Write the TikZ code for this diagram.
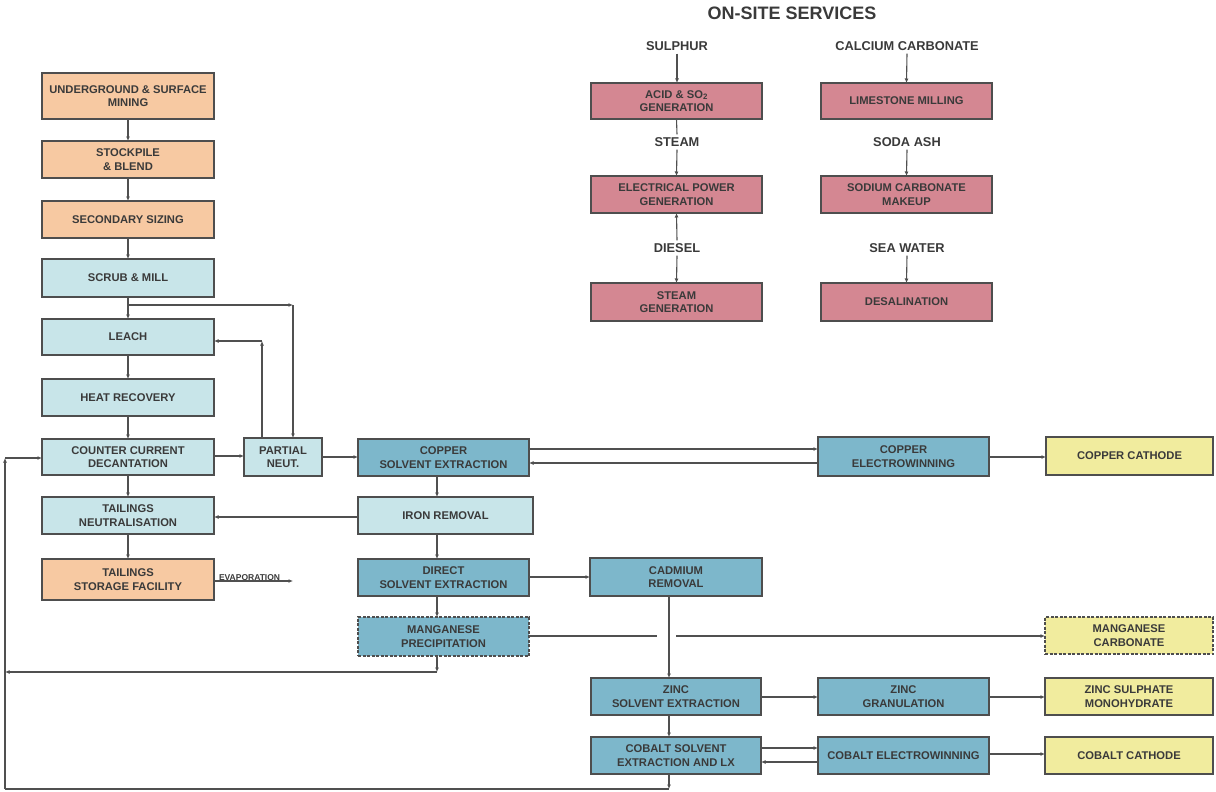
\documentclass[tikz,border=0pt]{standalone}
\usepackage{fontspec}
\setmainfont{Liberation Sans}
\usetikzlibrary{arrows.meta}
\definecolor{orng}{HTML}{F7C9A2}
\definecolor{lblu}{HTML}{C8E5E9}
\definecolor{teal2}{HTML}{7DB7CB}
\definecolor{pnk}{HTML}{D48792}
\definecolor{yel}{HTML}{F1EC9E}
\definecolor{brd}{HTML}{4E4E4E}
\definecolor{txt}{HTML}{3A3A3A}
\definecolor{ln}{HTML}{505050}
\tikzset{
  boxbase/.style={draw=brd, line width=1.3pt, inner sep=0pt, outer sep=0pt, align=center,
    text=txt, font=\fontsize{11.2}{13.4}\selectfont\bfseries},
  orbox/.style={boxbase, fill=orng},
  lbbox/.style={boxbase, fill=lblu},
  tlbox/.style={boxbase, fill=teal2},
  pkbox/.style={boxbase, fill=pnk},
  ylbox/.style={boxbase, fill=yel},
  dashbox/.style={dash pattern=on 3pt off 1.5pt},
  lbl/.style={text=txt, font=\fontsize{12.8}{14}\selectfont\bfseries, inner sep=3pt},
  arr/.style={draw=ln, line width=1.1pt, -{Latex[length=4.5pt,width=4pt]}},
  pln/.style={draw=ln, line width=1.1pt},
}
\newcommand{\bx}[7]{\node[#6, minimum width={(#4)-(#2)}, minimum height={(#5)-(#3)}] (#1) at ({((#2)+(#4))/2},{((#3)+(#5))/2}) {#7};}
\begin{document}
\begin{tikzpicture}[x=1pt,y=-1pt]
\useasboundingbox[fill=white] (0,0) rectangle (1216,792);
% left column
\bx{mine}{42}{73}{214}{119}{orbox}{UNDERGROUND \& SURFACE\\MINING}
\bx{stock}{42}{141}{214}{178}{orbox}{STOCKPILE\\\& BLEND}
\bx{sizing}{42}{201}{214}{238}{orbox}{SECONDARY SIZING}
\bx{scrub}{42}{259}{214}{297}{lbbox}{SCRUB \& MILL}
\bx{leach}{42}{319}{214}{355}{lbbox}{LEACH}
\bx{heat}{42}{379}{214}{416}{lbbox}{HEAT RECOVERY}
\bx{ccd}{42}{439}{214}{475}{lbbox}{COUNTER CURRENT\\DECANTATION}
\bx{tneut}{42}{497}{214}{534}{lbbox}{TAILINGS\\NEUTRALISATION}
\bx{tsf}{42}{559}{214}{600}{orbox}{TAILINGS\\STORAGE FACILITY}
\bx{pneut}{244}{438}{322}{476}{lbbox}{PARTIAL\\NEUT.}
% middle
\bx{cusx}{358}{439}{529}{476}{tlbox}{COPPER\\SOLVENT EXTRACTION}
\bx{iron}{358}{497}{533}{534}{lbbox}{IRON REMOVAL}
\bx{dsx}{358}{559}{529}{596}{tlbox}{DIRECT\\SOLVENT EXTRACTION}
\bx{mnp}{358}{617}{529}{656}{tlbox,dashbox}{MANGANESE\\PRECIPITATION}
\bx{cd}{590}{558}{762}{596}{tlbox}{CADMIUM\\REMOVAL}
\bx{znsx}{591}{678}{761}{715}{tlbox}{ZINC\\SOLVENT EXTRACTION}
\bx{cosx}{591}{737}{761}{774}{tlbox}{COBALT SOLVENT\\EXTRACTION AND LX}
\bx{cuew}{818}{437}{989}{476}{tlbox}{COPPER\\ELECTROWINNING}
\bx{zngr}{818}{678}{989}{715}{tlbox}{ZINC\\GRANULATION}
\bx{coew}{818}{737}{989}{774}{tlbox}{COBALT ELECTROWINNING}
\bx{cucath}{1046}{437}{1213}{475}{ylbox}{COPPER CATHODE}
\bx{mnc}{1045}{617}{1213}{654}{ylbox,dashbox}{MANGANESE\\CARBONATE}
\bx{znsm}{1045}{678}{1213}{715}{ylbox}{ZINC SULPHATE\\MONOHYDRATE}
\bx{cocath}{1045}{737}{1213}{774}{ylbox}{COBALT CATHODE}
% services
\node[text=txt, font=\fontsize{18}{20}\selectfont\bfseries] (title) at (792,13) {ON-SITE SERVICES};
\node[lbl] (sulphur) at (677,46) {SULPHUR};
\node[lbl] (steam) at (677,142) {STEAM};
\node[lbl] (diesel) at (677,248) {DIESEL};
\node[lbl] (calcium) at (907,46) {CALCIUM CARBONATE};
\node[lbl] (sodaash) at (907,142) {SODA ASH};
\node[lbl] (seawater) at (907,248) {SEA WATER};
\bx{acid}{591}{83}{762}{119}{pkbox}{ACID \& SO\textsubscript{2}\\GENERATION}
\bx{elec}{591}{176}{762}{213}{pkbox}{ELECTRICAL POWER\\GENERATION}
\bx{steamg}{591}{283}{762}{321}{pkbox}{STEAM\\GENERATION}
\bx{lime}{821}{83}{992}{119}{pkbox}{LIMESTONE MILLING}
\bx{soda}{821}{176}{992}{213}{pkbox}{SODIUM CARBONATE\\MAKEUP}
\bx{desal}{821}{283}{992}{321}{pkbox}{DESALINATION}
\draw[arr] (sulphur.south) -- (sulphur.south |- acid.north);
\draw[pln] (acid.south) -- (steam.north);
\draw[arr] (steam.south) -- (elec.north);
\draw[arr] (diesel.north) -- (elec.south);
\draw[arr] (diesel.south) -- (steamg.north);
\draw[arr] (calcium.south) -- (lime.north);
\draw[arr] (sodaash.south) -- (soda.north);
\draw[arr] (seawater.south) -- (desal.north);
% left column flow
\draw[arr] (mine) -- (stock);
\draw[arr] (stock) -- (sizing);
\draw[arr] (sizing) -- (scrub);
\draw[arr] (scrub) -- (leach);
\draw[arr] (leach) -- (heat);
\draw[arr] (heat) -- (ccd);
\draw[arr] (ccd) -- (tneut);
\draw[arr] (tneut) -- (tsf);
\coordinate (j1) at (128,305);
\coordinate (j2) at (293,305);
\coordinate (j3) at (262,341);
\draw[arr] (j1) -- (j2);
\draw[arr] (j2) -- (j2 |- pneut.north);
\draw[arr] (j3 |- pneut.north) -- (j3);
\draw[arr] (j3) -- (j3 -| leach.east);
\draw[arr] (ccd.east |- 0,456) -- (pneut.west |- 0,456);
\draw[arr] (pneut.east |- 0,457) -- (cusx.west |- 0,457);
\draw[arr] (cusx.east |- 0,449) -- (cuew.west |- 0,449);
\draw[arr] (cuew.west |- 0,463) -- (cusx.east |- 0,463);
\draw[arr] (cuew.east |- 0,457) -- (cucath.west |- 0,457);
\draw[arr] (cusx.south -| 437,0) -- (iron.north -| 437,0);
\draw[arr] (iron.west |- 0,517) -- (tneut.east |- 0,517);
\draw[arr] (iron.south -| 437,0) -- (dsx.north -| 437,0);
\draw[arr] (dsx.south -| 437,0) -- (mnp.north -| 437,0);
\draw[arr] (dsx.east |- 0,577) -- (cd.west |- 0,577);
% evaporation
\coordinate (evap) at (293,581);
\draw[arr] (tsf.east |- evap) -- node[above=-1pt, pos=0.45, text=txt, font=\fontsize{8.5}{9}\selectfont\bfseries, inner sep=1pt] {EVAPORATION} (evap);
% manganese
\coordinate (g1) at (657,636);
\coordinate (g2) at (676,636);
\draw[pln] (mnp.east |- g1) -- (g1);
\draw[arr] (g2) -- (mnc.west |- g2);
\coordinate (m1) at (437,672);
\coordinate (m2) at (5,672);
\draw[arr] (mnp.south -| m1) -- (m1);
\draw[arr] (m1) -- (m2);
% zinc / cobalt
\draw[arr] (cd.south -| 669,0) -- (znsx.north -| 669,0);
\draw[arr] (znsx.east |- 0,697) -- (zngr.west |- 0,697);
\draw[arr] (zngr.east |- 0,697) -- (znsm.west |- 0,697);
\draw[arr] (znsx.south -| 669,0) -- (cosx.north -| 669,0);
\draw[arr] (cosx.east |- 0,748) -- (coew.west |- 0,748);
\draw[arr] (coew.west |- 0,762) -- (cosx.east |- 0,762);
\draw[arr] (coew.east |- 0,754) -- (cocath.west |- 0,754);
% bottom return loop
\coordinate (b1) at (669,789);
\coordinate (b2) at (5,789);
\coordinate (b3) at (5,458);
\draw[arr] (cosx.south -| b1) -- (b1);
\draw[pln] (b1) -- (b2);
\draw[arr] (b2) -- (b3);
\draw[arr] (b3) -- (ccd.west |- b3);
\end{tikzpicture}
\end{document}
